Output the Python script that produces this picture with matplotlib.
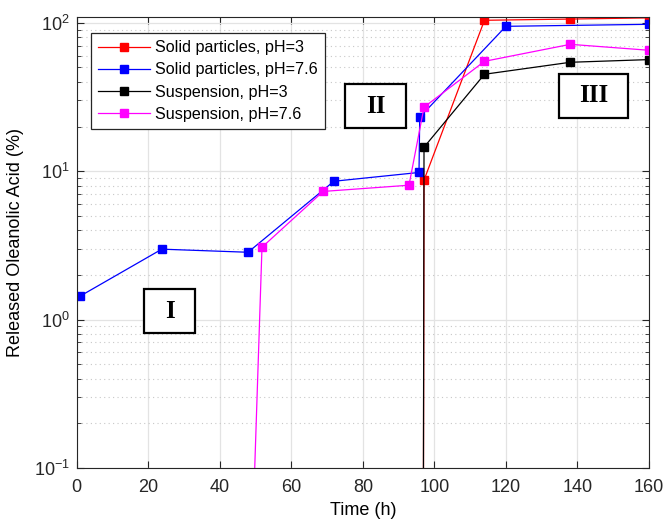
import matplotlib
matplotlib.use("Agg")
import matplotlib.pyplot as plt
from matplotlib.patches import Rectangle

plt.rcParams["font.family"] = ["Liberation Sans", "DejaVu Sans"]
plt.rcParams["mathtext.fontset"] = "custom"
plt.rcParams["mathtext.rm"] = "Liberation Sans"
plt.rcParams["mathtext.it"] = "Liberation Sans:italic"
plt.rcParams["font.size"] = 12

# dane (czas w h, uwolniony kwas w %)
t_red = [96.8, 97.1, 114, 138, 160]
y_red = [0.001, 8.7, 104, 106, 108]

t_blue = [1, 23.8, 47.9, 71.9, 95.7, 95.9, 120, 160]
y_blue = [1.44, 2.98, 2.84, 8.55, 9.8, 23.1, 94.7, 97.7]

t_black = [96.8, 97.1, 114, 138, 160]
y_black = [0.001, 14.5, 45, 54.2, 56.5]

t_pink = [48, 51.8, 68.9, 92.9, 97.1, 114, 138, 160]
y_pink = [0.005, 3.07, 7.3, 8.04, 27, 55, 71.6, 65.3]

labels = ["Solid particles, pH=3", "Solid particles, pH=7.6",
          "Suspension, pH=3", "Suspension, pH=7.6"]

fig = plt.figure(figsize=(6.67, 5.21), dpi=100)
ax = fig.add_axes([0.115, 0.102, 0.858, 0.866])

serie = [(t_red, y_red, "#ff0000"), (t_blue, y_blue, "#0000ff"),
         (t_black, y_black, "black"), (t_pink, y_pink, "#ff00ff")]
for (t, y, c), lab in zip(serie, labels):
    ax.plot(t, y, color=c, lw=0.9, marker="s", ms=5.5, label=lab)

ax.set_yscale("log")
ax.set_xlim(0, 160)
ax.set_ylim(0.1, 110)
ax.set_xticks(range(0, 161, 20))

ax.grid(True, which="major", color="#e3e3e3", lw=0.9, ls="-")
ax.grid(True, which="minor", axis="y", color="#c8c8c8", lw=0.8, ls=(0, (1, 3)))
ax.set_axisbelow(True)
ax.tick_params(which="both", direction="in", top=True, right=True, colors="#262626")
ax.tick_params(which="major", length=5, labelsize=13)
ax.tick_params(which="minor", length=3)
ax.tick_params(axis="x", which="major", pad=8)
ax.tick_params(axis="y", which="major", pad=5)
ax.tick_params(axis="x", which="minor", bottom=False, top=False)
for s in ax.spines.values():
    s.set_color("#262626")

ax.set_xlabel("Time (h)", fontsize=13, labelpad=4)
ax.set_ylabel("Released Oleanolic Acid (%)", fontsize=13, labelpad=7)

leg = ax.legend(loc="upper left", bbox_to_anchor=(0.025, 0.964), frameon=True,
                fancybox=False, edgecolor="#262626", framealpha=1,
                handlelength=3.2, handletextpad=0.3, labelspacing=0.45,
                borderpad=0.45, borderaxespad=0, fontsize=11.6)
leg.get_frame().set_linewidth(0.9)

# ramki z numerami etapów
etapy = [("I", 0.1176, 0.2987, 0.0891, 0.0973),
         ("II", 0.469, 0.7532, 0.1064, 0.0976),
         ("III", 0.8427, 0.7754, 0.1203, 0.0976)]
for txt, x0, y0, w, h in etapy:
    ax.add_patch(Rectangle((x0, y0), w, h, transform=ax.transAxes, fill=True,
                           facecolor="white", edgecolor="black", lw=1.6, zorder=5))
    ax.text(x0 + w / 2, y0 + h / 2, txt, transform=ax.transAxes, ha="center",
            va="center", family="Liberation Serif", weight="bold", fontsize=18, zorder=6)

fig.savefig("out.png", dpi=100)
